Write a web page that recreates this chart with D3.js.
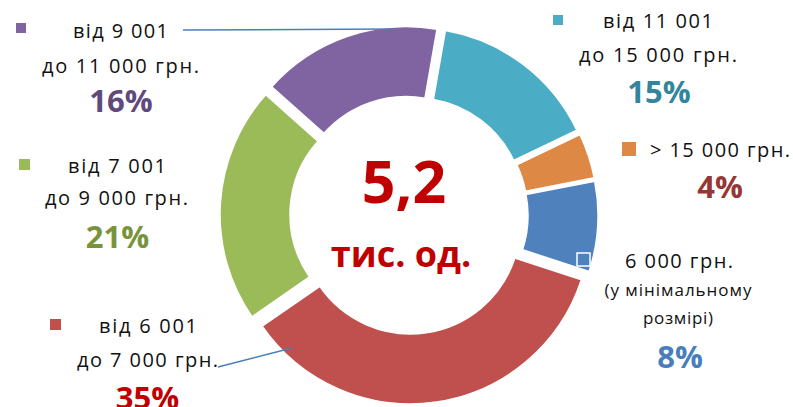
<!DOCTYPE html>
<html>
<head>
<meta charset="utf-8">
<script src="https://cdn.jsdelivr.net/npm/d3@7"></script>
<style>
  html, body { margin: 0; padding: 0; background: #fff; }
  svg { display: block; }
  text { font-family: "Open Sans", "Noto Sans", sans-serif; }
</style>
</head>
<body>
<div id="chart"></div>
<script>
// data (shares in %)
const categories = [
  '6 000 грн. (у мінімальному розмірі)',
  'від 6 001 до 7 000 грн.',
  'від 7 001 до 9 000 грн.',
  'від 9 001 до 11 000 грн.',
  'від 11 001 до 15 000 грн.',
  '> 15 000 грн.'
];
const shares = [8, 35, 21, 16, 15, 4];
const labelLines = [
  ['6 000 грн.', '(у мінімальному', 'розмірі)'],
  ['від 6 001', 'до 7 000 грн.'],
  ['від 7 001', 'до 9 000 грн.'],
  ['від 9 001', 'до 11 000 грн.'],
  ['від 11 001', 'до 15 000 грн.'],
  ['> 15 000 грн.']
];
const totalValue = '5,2';
const totalUnit = 'тис. од.';

const sliceColors = ['#4f81bd', '#c0504d', '#9bbb59', '#8064a2', '#4bacc6', '#dd8844'];
const pctColors   = ['#4a7ebb', '#c00000', '#77933c', '#604a7b', '#31859c', '#953735'];

// label placement: square [x, y, size], lines [centerX, baseline, width, fontSize], pct [centerX, baseline]
const layout = [
  { sq: [577, 253, 13], lines: [[679, 268, 108, 20], [678, 296, 147, 17], [678, 324, 70, 17]], pct: [680, 368] },
  { sq: [50, 319, 11],  lines: [[148, 333, 98, 20], [147.5, 367, 141, 20]], pct: [147.5, 409],
    leader: [[218, 367], [292, 348]] },
  { sq: [19, 159, 11],  lines: [[117, 173, 98, 20], [116.5, 205, 143, 20]], pct: [117.5, 248] },
  { sq: [16, 23, 10],   lines: [[120.5, 38, 95, 20], [120.5, 73, 157, 20]], pct: [121, 112],
    leader: [[183, 30], [393, 29]] },
  { sq: [553, 15, 10],  lines: [[658, 28, 110, 20], [658, 62, 158, 20]], pct: [659, 103] },
  { sq: [622, 142, 14], lines: [[720, 157, 140, 20]], pct: [720, 198] }
];

const W = 793, H = 407;
const cx = 409, cy = 215;
const outerR = 180, innerR = 110, explode = 9;
const start = 79 * Math.PI / 180;

const svg = d3.select('#chart').append('svg')
  .attr('width', W).attr('height', H)
  .attr('viewBox', `0 0 ${W} ${H}`);

const pie = d3.pie().sort(null).startAngle(start).endAngle(start + 2 * Math.PI);
const arc = d3.arc().innerRadius(innerR).outerRadius(outerR);
const arcs = pie(shares);

// slices, each pushed out along its middle angle
const g = svg.append('g').attr('transform', `translate(${cx},${cy})`);
g.selectAll('path.slice')
  .data(arcs)
  .enter().append('path')
    .attr('class', 'slice')
    .attr('d', arc)
    .attr('fill', (d, i) => sliceColors[i])
    .attr('stroke', '#fff')
    .attr('stroke-width', 1.5)
    .attr('transform', d => {
      const a = (d.startAngle + d.endAngle) / 2;
      return `translate(${explode * Math.sin(a)},${-explode * Math.cos(a)})`;
    });

// leader lines
layout.forEach(l => {
  if (!l.leader) return;
  svg.append('line')
    .attr('x1', l.leader[0][0]).attr('y1', l.leader[0][1])
    .attr('x2', l.leader[1][0]).attr('y2', l.leader[1][1])
    .attr('stroke', '#4a7ebb').attr('stroke-width', 1.5);
});

// labels
const lab = svg.selectAll('g.label')
  .data(arcs)
  .enter().append('g').attr('class', 'label');

lab.append('rect')
  .attr('x', (d, i) => layout[i].sq[0])
  .attr('y', (d, i) => layout[i].sq[1])
  .attr('width', (d, i) => layout[i].sq[2])
  .attr('height', (d, i) => layout[i].sq[2])
  .attr('fill', (d, i) => sliceColors[i])
  .attr('stroke', (d, i) => i === 0 ? '#fff' : 'none')
  .attr('stroke-width', 1.5);

lab.each(function(d, i) {
  const el = d3.select(this);
  labelLines[i].forEach((t, j) => {
    const p = layout[i].lines[j];
    el.append('text')
      .attr('x', p[0]).attr('y', p[1])
      .attr('text-anchor', 'middle')
      .attr('font-size', p[3])
      .attr('fill', '#111')
      .attr('textLength', p[2])
      .attr('lengthAdjust', 'spacing')
      .text(t);
  });
  el.append('text')
    .attr('x', layout[i].pct[0]).attr('y', layout[i].pct[1])
    .attr('text-anchor', 'middle')
    .attr('font-size', 31)
    .attr('font-weight', 700)
    .attr('fill', pctColors[i])
    .text(d3.format('d')(d.data) + '%');
});

// centre text
svg.append('text')
  .attr('x', 404).attr('y', 203)
  .attr('text-anchor', 'middle')
  .attr('font-size', 59).attr('font-weight', 700)
  .attr('fill', '#c00000')
  .text(totalValue);
svg.append('text')
  .attr('x', 401).attr('y', 267)
  .attr('text-anchor', 'middle')
  .attr('font-size', 36).attr('font-weight', 700)
  .attr('fill', '#c00000')
  .text(totalUnit);
</script>
</body>
</html>
